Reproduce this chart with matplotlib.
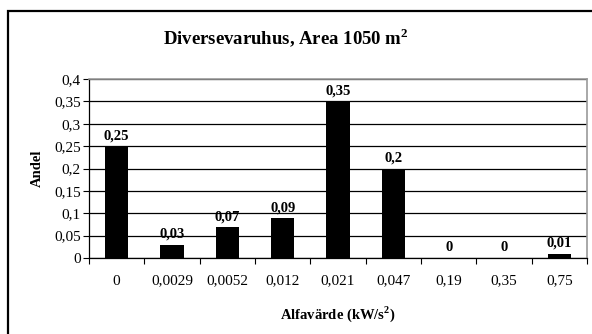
import numpy as np
import matplotlib
matplotlib.use('Agg')
import matplotlib.pyplot as plt
from matplotlib.patches import Rectangle

categories = ['0', '0,0029', '0,0052', '0,012', '0,021', '0,047', '0,19', '0,35', '0,75']
andel = [0.25, 0.03, 0.07, 0.09, 0.35, 0.20, 0.0, 0.0, 0.01]
value_labels = ['0,25', '0,03', '0,07', '0,09', '0,35', '0,2', '0', '0', '0,01']
yticks = [0, 0.05, 0.1, 0.15, 0.2, 0.25, 0.3, 0.35, 0.4]
ytick_labels = ['0', '0,05', '0,1', '0,15', '0,2', '0,25', '0,3', '0,35', '0,4']

plt.rcParams['font.family'] = ['Liberation Serif', 'DejaVu Serif']
plt.rcParams['mathtext.fontset'] = 'custom'
plt.rcParams['mathtext.rm'] = 'Liberation Serif'
plt.rcParams['mathtext.bf'] = 'Liberation Serif:bold'

fig = plt.figure(figsize=(5.92, 3.34), dpi=100)
ax = fig.add_axes([89 / 592, 1 - 258 / 334, (587 - 89) / 592, (258 - 79) / 334])

# outer chart border (only left/top edges fall inside the image)
fig.patches.append(Rectangle((7.5 / 592, -0.1), 1.2, 1 - 10.5 / 334 + 0.1,
                             transform=fig.transFigure, fill=False,
                             edgecolor='black', linewidth=1.6))

x = np.arange(len(categories))
ax.set_axisbelow(True)
ax.yaxis.grid(True, color='black', linewidth=0.9)
ax.bar(x, andel, width=0.42, color='black', zorder=3)

for xi, v, lab in zip(x, andel, value_labels):
    ax.text(xi, v + 0.008, lab, ha='center', va='bottom', fontsize=10.5,
            fontweight='bold', zorder=4)

ax.set_xlim(-0.5, len(categories) - 0.5)
ax.set_ylim(0, 0.4)
ax.set_yticks(yticks)
ax.set_yticklabels(ytick_labels, fontsize=11)
ax.set_xticks(x)
ax.set_xticklabels(categories, fontsize=11)
ax.tick_params(axis='x', length=0, pad=12)
ax.set_xticks(np.arange(-0.5, len(categories)), minor=True)
ax.tick_params(axis='x', which='minor', length=4, width=0.8, direction='out')
ax.tick_params(axis='y', length=4, width=0.8, direction='out', pad=2)

for side in ['top', 'right']:
    ax.spines[side].set_color('#999999')
    ax.spines[side].set_linewidth(1.2)
for side in ['left', 'bottom']:
    ax.spines[side].set_color('black')
    ax.spines[side].set_linewidth(0.9)

ax.set_ylabel('Andel', fontsize=10.5, fontweight='bold', labelpad=7)
ax.set_xlabel(r'Alfavärde (kW/s$^{\mathbf{2}}$)', fontsize=10.5, fontweight='bold', labelpad=12)
fig.text(286 / 592, 1 - 38 / 334, r'Diversevaruhus, Area 1050 m$^{\mathbf{2}}$',
         ha='center', va='center', fontsize=13.5, fontweight='bold')

fig.savefig('out.png', dpi=100)
